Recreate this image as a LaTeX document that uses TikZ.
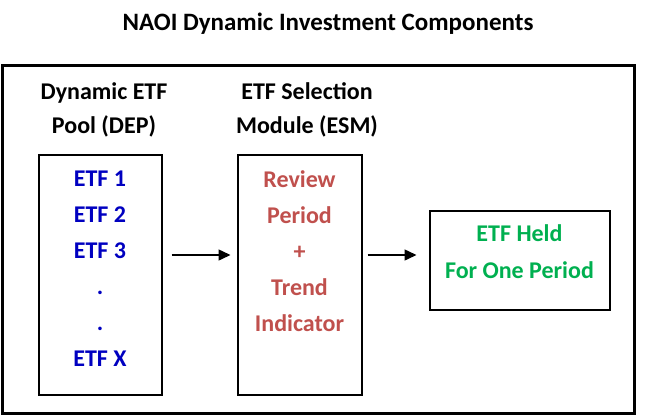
\documentclass[tikz,border=0pt]{standalone}
\usepackage{fontspec}
\setmainfont{Carlito}
\usetikzlibrary{positioning,arrows.meta}
\definecolor{etfblue}{RGB}{0,0,192}
\definecolor{esmred}{RGB}{192,80,77}
\definecolor{heldgreen}{RGB}{0,176,80}
\tikzset{font=\bfseries\fontsize{24}{36}\selectfont}

\begin{document}
\begin{tikzpicture}[x=1pt,y=-1pt]
	\tikzstyle{every node}=[align=center, inner sep=0pt]
	\tikzstyle{box}=[draw, line width=2pt]
	\tikzstyle{arr}=[line width=1.5pt, -{Triangle[length=12pt,width=11pt]}]
	\useasboundingbox (0,0) rectangle (656,418);

	% title and outer frame
	\node[font=\bfseries\fontsize{25}{30}\selectfont] (title) at (328,24) {NAOI Dynamic Investment Components};
	\node[draw, line width=3pt, minimum width=632pt, minimum height=348pt] (frame) at (318,239) {};

	% headers
	\node[font=\bfseries\fontsize{24}{34}\selectfont] (dephead) at (104,110) {Dynamic ETF\\Pool (DEP)};
	\node[font=\bfseries\fontsize{24}{34}\selectfont] (esmhead) at (307,110) {ETF Selection\\Module (ESM)};

	% boxes
	\node[box, minimum width=123pt, minimum height=240pt] (dep) at (100,275) {};
	\node[box, minimum width=124pt, minimum height=240pt] (esm) at (299.5,275) {};
	\node[box, minimum width=180pt, minimum height=99pt] (held) at (519.5,260.5) {};

	% box texts
	\node[text=etfblue] (etfs) at (100,268.5) {ETF 1\\ETF 2\\ETF 3\\.\\.\\ETF X};
	\node[text=esmred] (rules) at (299.5,251) {Review\\Period\\+\\Trend\\Indicator};
	\node[text=heldgreen, font=\bfseries\fontsize{24}{37}\selectfont] (heldtext) at (519.5,251.5) {ETF Held\\For One Period};

	% arrows
	\draw[arr] ([xshift=9pt,yshift=20pt]dep.east) -- ([xshift=-6pt,yshift=20pt]esm.west);
	\draw[arr] ([xshift=5pt,yshift=20pt]esm.east) -- ([xshift=-12pt,yshift=5.5pt]held.west);
\end{tikzpicture}
\end{document}
